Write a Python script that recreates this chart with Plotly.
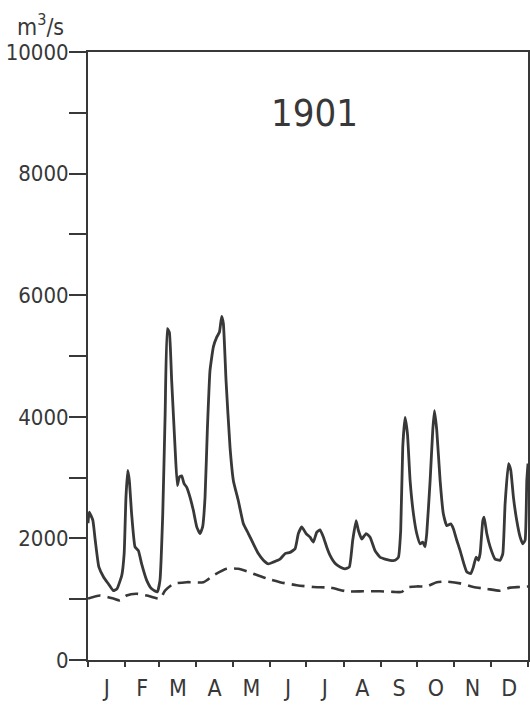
import plotly.graph_objects as go

# Daily discharge, 1901 (day of year, m3/s)
flow_day = [0, 1, 4, 6, 9, 13, 17, 21, 24, 28, 30, 31.5, 33, 34.3, 36.2, 39, 41.8, 44.5,
            48.7, 52.8, 57.5, 59.7, 62, 64, 65.8, 67.5, 69.4, 72.2, 74.1, 75.8, 77.7,
            79.7, 81.9, 84.6, 87.4, 90.2, 92.9, 95.1, 97.1, 99, 101.2, 104, 106.8, 109,
            110.9, 112.3, 114.5, 117.8, 120.6, 124.7, 128.9, 133, 137.2, 141.3, 145.5,
            149.6, 153.8, 159.3, 163.5, 167.6, 171.8, 174.5, 177.3, 180.9, 184.2, 187,
            189.7, 192.5, 195.3, 198, 200.8, 204.9, 209.1, 213.2, 216.8, 219.6, 222.4,
            224.3, 227.1, 230.7, 234, 238.1, 242.3, 246.4, 250.6, 254.7, 257.5, 259.4,
            261.1, 263, 265, 267.2, 270, 272.7, 275.5, 277.7, 279.6, 281, 283.8, 286,
            287.4, 289.3, 292.1, 294.8, 297.6, 300.9, 303.1, 305.9, 308.7, 311.4, 314.2,
            317.5, 319.7, 321.9, 323.9, 325.3, 327.5, 328.6, 330.8, 333.6, 337.7, 341.9,
            344.1, 346, 348.8, 350.7, 352.9, 355.7, 358.5, 360.7, 362.6, 364, 365]
flow_val = [2250, 2430, 2300, 1970, 1530, 1360, 1250, 1140, 1170, 1390, 1750, 2680,
            3120, 2950, 2400, 1860, 1800, 1580, 1310, 1170, 1120, 1310, 2400, 4050, 5450,
            5390, 4600, 3500, 2870, 3010, 3030, 2900, 2840, 2680, 2460, 2190, 2080, 2190,
            2680, 3780, 4760, 5150, 5310, 5390, 5650, 5530, 4600, 3500, 2950, 2620, 2240,
            2080, 1910, 1750, 1640, 1580, 1610, 1660, 1750, 1770, 1830, 2080, 2190, 2080,
            2020, 1940, 2100, 2140, 2020, 1860, 1720, 1590, 1530, 1500, 1530, 1970, 2290,
            2130, 1990, 2080, 2020, 1800, 1690, 1660, 1640, 1640, 1690, 2130, 3500, 3990,
            3720, 2950, 2400, 2080, 1910, 1940, 1860, 2080, 2950, 3780, 4100, 3780, 2950,
            2400, 2210, 2240, 2160, 1970, 1800, 1610, 1450, 1420, 1530, 1690, 1640, 1750,
            2290, 2350, 2080, 1860, 1660, 1640, 1750, 2570, 3230, 3120, 2680, 2290, 2020,
            1910, 1970, 2950, 3230]

# Long-term mean discharge
mean_day = [0, 10, 21, 26.5, 32, 40, 48.7, 59.7, 63.9, 70.8, 81.9, 95.7, 104, 115, 124.7,
            137.2, 148.3, 159.3, 173.1, 187, 200.8, 214.6, 228.5, 242.3, 253.3, 260.3,
            264.4, 272.7, 281, 289.3, 297.6, 308.7, 319.7, 330.8, 341.9, 350.2, 358, 365]
mean_val = [1010, 1060, 1010, 980, 1060, 1090, 1060, 1010, 1140, 1250, 1280, 1280, 1390,
            1500, 1500, 1420, 1340, 1280, 1230, 1200, 1190, 1130, 1130, 1130, 1120, 1120,
            1190, 1210, 1210, 1280, 1290, 1260, 1200, 1170, 1140, 1190, 1200, 1210]

month_start = [0, 31, 59, 90, 120, 151, 181, 212, 243, 273, 304, 334, 365]
month_label = ["J", "F", "M", "A", "M", "J", "J", "A", "S", "O", "N", "D"]
month_mid = [(a + b) / 2 for a, b in zip(month_start[:-1], month_start[1:])]
y_ticks = [0, 2000, 4000, 6000, 8000, 10000]
y_text = [str(v) for v in y_ticks]

INK = "#383838"
FONT = "Liberation Sans Narrow, DejaVu Sans Condensed, Arial Narrow, sans-serif"

fig = go.Figure()
fig.add_trace(go.Scatter(x=mean_day, y=mean_val, mode="lines",
                         line=dict(color=INK, width=2.6, dash="13px,7px", shape="spline",
                                   smoothing=0.6),
                         hoverinfo="skip", showlegend=False))
fig.add_trace(go.Scatter(x=flow_day, y=flow_val, mode="lines",
                         line=dict(color=INK, width=2.8, shape="spline", smoothing=0.4),
                         hoverinfo="skip", showlegend=False))
# carrier for the month-letter axis
fig.add_trace(go.Scatter(x=[0, 365], y=[0, 0], mode="lines", xaxis="x2",
                         line=dict(width=0, color="rgba(0,0,0,0)"),
                         hoverinfo="skip", showlegend=False))

fig.update_layout(
    width=530, height=707,
    margin=dict(l=88, r=2, t=52, b=47, autoexpand=False),
    paper_bgcolor="white", plot_bgcolor="white",
    font=dict(family=FONT, color=INK, size=22),
    xaxis=dict(range=[0, 365], tickvals=month_start, showticklabels=False,
               ticks="outside", ticklen=5, tickwidth=2, tickcolor=INK,
               showline=True, linewidth=2, linecolor=INK, mirror=True,
               showgrid=False, zeroline=False, automargin=False),
    xaxis2=dict(range=[0, 365], overlaying="x", side="bottom", anchor="y",
                tickvals=month_mid, ticktext=month_label, ticks="",
                tickfont=dict(family=FONT, size=23, color=INK),
                ticklabelstandoff=12, automargin=False,
                showline=False, showgrid=False, zeroline=False),
    yaxis=dict(range=[0, 10000], tickvals=y_ticks, ticktext=y_text,
               ticks="outside", ticklen=17, tickwidth=2, tickcolor=INK,
               minor=dict(dtick=1000, tick0=0, ticks="outside", ticklen=17,
                          tickwidth=2, tickcolor=INK),
               tickfont=dict(family=FONT, size=22, color=INK),
               ticklabelstandoff=-4, automargin=False,
               showline=True, linewidth=2, linecolor=INK, mirror=True,
               showgrid=False, zeroline=False),
    yaxis2=dict(range=[0, 10000], overlaying="y", side="right", anchor="x",
                dtick=1000, ticks="inside", ticklen=4, tickwidth=2, tickcolor=INK,
                showticklabels=False, showgrid=False, zeroline=False, showline=False,
                automargin=False),
    annotations=[
        dict(text="1901", x=0.515, y=0.9, xref="paper", yref="paper",
             xanchor="center", yanchor="middle", showarrow=False,
             font=dict(family=FONT, size=38, color=INK)),
        dict(text="m<sup>3</sup>/s", x=-48 / 440, y=1 + 27 / 608, xref="paper",
             yref="paper", xanchor="center", yanchor="middle", showarrow=False,
             font=dict(family=FONT, size=23, color=INK)),
    ],
)

fig.write_html("out.html")
